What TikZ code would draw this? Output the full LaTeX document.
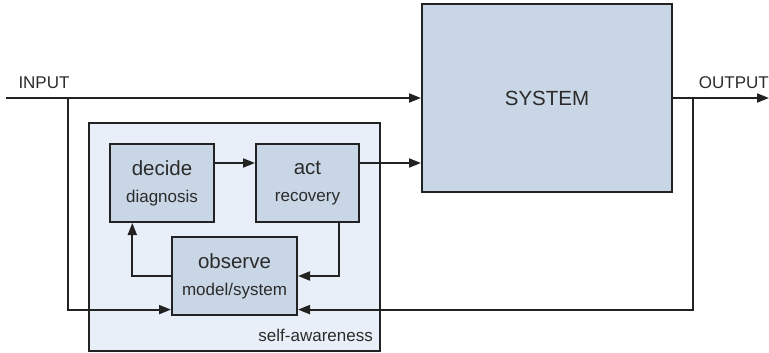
\documentclass[tikz,border=0pt]{standalone}
\usepackage{fontspec}
\setmainfont{Liberation Sans}
\usetikzlibrary{arrows.meta, calc}

\definecolor{boxfill}{HTML}{C9D6E5}
\definecolor{awarefill}{HTML}{E9EFF8}
\definecolor{linegray}{HTML}{222222}
\definecolor{textgray}{HTML}{2B2B2B}

% \twoline{main word}{sub word}
\newcommand{\twoline}[2]{{\fontsize{20.5}{25}\selectfont #1}\\[2pt]{\fontsize{17}{20}\selectfont #2}}

\begin{document}
\begin{tikzpicture}[x=1pt, y=-1pt,
  blk/.style={draw=linegray, fill=boxfill, line width=2pt, inner sep=0pt, text=textgray,
              align=center, font=\fontsize{20.5}{25}\selectfont},
  aware/.style={draw=linegray, fill=awarefill, line width=2pt, inner sep=0pt},
  flow/.style={draw=linegray, line width=1.9pt, -{Triangle[length=12pt, width=9pt]}},
  lbl/.style={text=textgray, font=\fontsize{17}{20}\selectfont, inner sep=0pt}]
\useasboundingbox (0,0) rectangle (769,353);

% ---- boxes
\node[aware, minimum width=291pt, minimum height=228pt] (aware) at (234.5,237) {};
\node[blk, minimum width=250pt, minimum height=188pt] (system) at (547,98) {SYSTEM};
\node[blk, minimum width=104pt, minimum height=78pt] (decide) at (162,183) {\twoline{decide}{diagnosis}};
\node[blk, minimum width=103pt, minimum height=78pt] (act) at (307.5,183) {\twoline{act}{recovery}};
\node[blk, minimum width=125pt, minimum height=78pt] (observe) at (234.5,276) {\twoline{observe}{model/system}};

% ---- labels
\node[lbl] (input) at (44,83) {INPUT};
\node[lbl, anchor=east] (output) at (769,83) {OUTPUT};
\node[lbl, anchor=base east] (awarelabel) at (373,341) {self-awareness};

% ---- ports and taps
\coordinate (inport) at (6,98);
\coordinate (outport) at (769,98);
\coordinate (intap) at (68,98);
\coordinate (outtap) at (693,98);
\coordinate (obsin) at ($(observe.north west)!0.92!(observe.south west)$);
\coordinate (obsout) at ($(observe.north east)!0.92!(observe.south east)$);
\coordinate (decright) at ($(decide.north east)!0.25!(decide.south east)$);
\coordinate (actleft) at ($(act.north west)!0.25!(act.south west)$);
\coordinate (actright) at ($(act.north east)!0.25!(act.south east)$);
\coordinate (actdown) at ($(act.south west)!0.8!(act.south east)$);
\coordinate (decup) at ($(decide.south west)!0.22!(decide.south east)$);

% ---- connectors
\draw[flow] (inport) -- (system.west);
\draw[flow] (system.east) -- (outport);
\draw[flow] (intap) |- (obsin);
\draw[flow] (outtap) |- (obsout);
\draw[flow] (decright) -- (actleft);
\draw[flow] (actright) -- (actright -| system.west);
\draw[flow] (actdown) |- (observe.east);
\draw[flow] (observe.west) -| (decup);
\end{tikzpicture}
\end{document}
